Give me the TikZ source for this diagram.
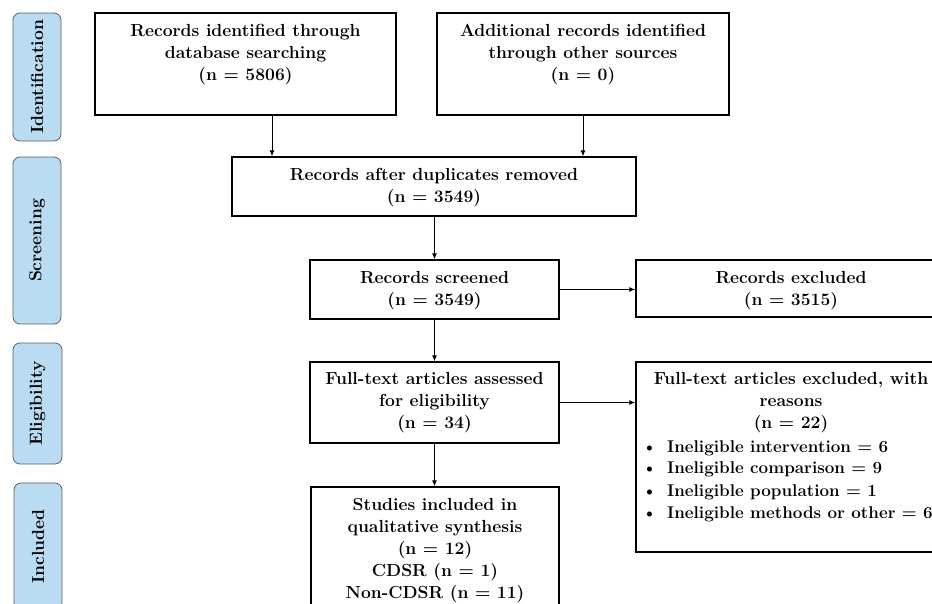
\documentclass[tikz,border=0pt]{standalone}
\usepackage{fontspec}
\usepackage{xcolor}
\usetikzlibrary{arrows.meta, positioning}

\definecolor{stageblue}{RGB}{185,220,242}
\definecolor{stageline}{RGB}{95,95,95}

\begin{document}
\begin{tikzpicture}[x=1pt, y=-1pt,
        stage/.style={draw=stageline, fill=stageblue, rounded corners=7pt, line width=0.8pt,
            rotate=90, inner sep=0pt, font=\fontsize{17.5}{20}\selectfont\bfseries},
        recbox/.style={draw, line width=1.3pt, inner sep=0pt},
        rectext/.style={align=center, inner sep=0pt, font=\fontsize{17.5}{22}\selectfont\bfseries},
        flow/.style={-{Latex[length=6pt, width=5pt]}, line width=1pt}]
        \useasboundingbox (0,0) rectangle (932,604);

        % 左侧阶段标签
        \node[stage, minimum width=128pt, minimum height=48pt] (sIdent) at (37,77) {Identification};
        \node[stage, minimum width=167pt, minimum height=48pt] (sScreen) at (37,240.5) {Screening};
        \node[stage, minimum width=121pt, minimum height=49pt] (sElig) at (37.5,403.5) {Eligibility};
        \node[stage, minimum width=127pt, minimum height=48pt] (sIncl) at (38,546.5) {Included};

        % 识别
        \node[recbox, minimum width=301pt, minimum height=102pt] (rec1) at (245.5,64) {};
        \node[rectext, below=11.5pt of rec1.north] (rec1t) {Records identified through\\database searching\\(n = 5806)};
        \node[recbox, minimum width=292pt, minimum height=102pt] (rec2) at (583,64) {};
        \node[rectext, below=11.5pt of rec2.north] (rec2t) {Additional records identified\\through other sources\\(n = 0)};

        % 筛选
        \node[recbox, minimum width=404pt, minimum height=59pt] (dup) at (434,186.5) {};
        \node[rectext, below=11.5pt of dup.north] (dupt) {Records after duplicates removed\\(n = 3549)};
        \node[recbox, minimum width=249pt, minimum height=59pt] (screen) at (434.5,289.5) {};
        \node[rectext, below=11.5pt of screen.north] (screent) {Records screened\\(n = 3549)};
        \node[recbox, minimum width=310pt, minimum height=57pt] (excl) at (791,288.5) {};
        \node[rectext, below=11.5pt of excl.north] (exclt) {Records excluded\\(n = 3515)};

        % 合格性
        \node[recbox, minimum width=249pt, minimum height=81pt] (full) at (434.5,402.5) {};
        \node[rectext, below=11pt of full.north] (fullt) {Full-text articles assessed\\for eligibility\\(n = 34)};
        \node[recbox, minimum width=310pt, minimum height=190pt] (reason) at (791,457) {};
        \node[rectext, below=11pt of reason.north] (reasont) {Full-text articles excluded, with\\reasons\\(n = 22)};
        \node[rectext, align=left, anchor=north west, font=\fontsize{17}{22}\selectfont\bfseries]
            (reasonlist) at (642,440)
            {\makebox[25pt][l]{\textbullet}Ineligible intervention = 6\\
             \makebox[25pt][l]{\textbullet}Ineligible comparison = 9\\
             \makebox[25pt][l]{\textbullet}Ineligible population = 1\\
             \makebox[25pt][l]{\textbullet}Ineligible methods or other = 6};

        % 纳入
        \node[recbox, minimum width=248pt, minimum height=126pt] (incl) at (435,550) {};
        \node[rectext, below=12pt of incl.north] (inclt) {Studies included in\\qualitative synthesis\\(n = 12)\\CDSR (n = 1)\\Non-CDSR (n = 11)};

        % 箭头
        \draw[flow] ([xshift=26.5pt]rec1.south) -- ([xshift=26.5pt]rec1.south |- dup.north);
        \draw[flow] (rec2.south) -- (rec2.south |- dup.north);
        \draw[flow] (screen.north |- dup.south) -- (screen.north);
        \draw[flow] (screen.east) -- (screen.east -| excl.west);
        \draw[flow] (screen.south) -- (full.north);
        \draw[flow] (full.east) -- (full.east -| reason.west);
        \draw[flow] (full.south) -- (full.south |- incl.north);
\end{tikzpicture}
\end{document}
